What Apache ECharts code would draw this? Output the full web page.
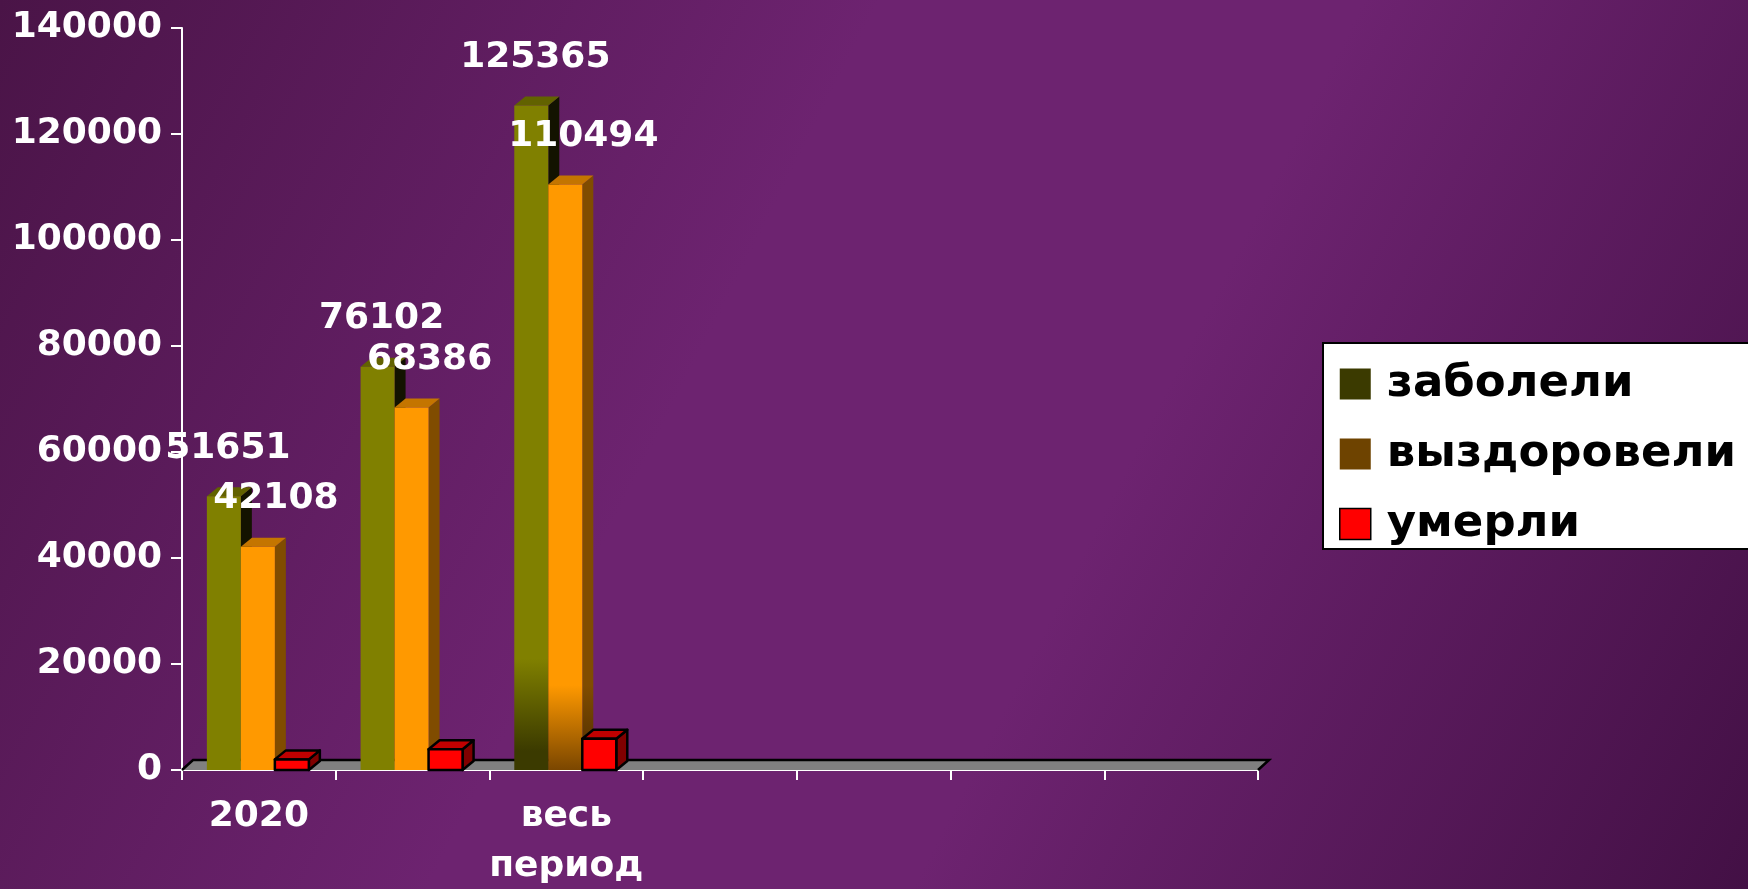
<!DOCTYPE html>
<html>
<head>
<meta charset="utf-8">
<script src="https://cdn.jsdelivr.net/npm/echarts@6/dist/echarts.min.js"></script>
<style>
  html, body { margin: 0; padding: 0; }
  #chart { width: 1748px; height: 889px; }
</style>
</head>
<body>
<div id="chart"></div>
<script>
  // data
  const categories = ['2020', '', 'весь\nпериод', '', '', '', ''];
  const seriesNames = ['заболели', 'выздоровели', 'умерли'];
  const zaboleli = [51651, 76102, 125365];
  const vyzdoroveli = [42108, 68386, 110494];
  const umerli = [2000, 3900, 5900];
  const yMin = 0;
  const yMax = 140000;
  const yStep = 20000;

  // look of the fake 3d columns
  const BAR_W = 34;
  const DX = 11;
  const DY = 9;
  const FADE_CAT = 2; // the last column is shaded darker at the bottom
  const faces = [
    { front: '#808000', top: '#626200', side: '#131300', fadeFront: '#3b3a00', fadeSide: '#050500', fadeFrom: 21000, fadeTo: 3500, labelDx: 4 },
    { front: '#ff9900', top: '#c47500', side: '#804c00', fadeFront: '#7a4600', fadeSide: '#4a2a00', fadeFrom: 16000, fadeTo: 0, labelDx: 18 },
    { front: '#ff0000', top: '#c00000', side: '#800000', stroke: '#000' },
  ];
  const legendColors = ['#3b3a00', '#6e4300', '#ff0000'];
  const font = 'bold 36px "DejaVu Sans"';

  function fill(st, idx, api, normal, faded) {
    if (idx !== FADE_CAT || !faded) return normal;
    const y1 = api.coord([idx, st.fadeFrom])[1];
    const y2 = api.coord([idx, st.fadeTo])[1];
    return new echarts.graphic.LinearGradient(0, y1, 0, y2, [
      { offset: 0, color: normal },
      { offset: 1, color: faded },
    ], true);
  }

  function columnRenderer(s) {
    const st = faces[s];
    return function (params, api) {
      const idx = api.value(0);
      const v = api.value(1);
      const base = api.coord([idx, 0]);
      const top = api.coord([idx, v]);
      const x0 = base[0] - 1.5 * BAR_W - 1 + s * BAR_W;
      const x1 = x0 + BAR_W;
      const line = st.stroke ? { stroke: st.stroke, lineWidth: 2.5, lineJoin: 'round' } : {};
      const children = [
        {
          type: 'polygon',
          shape: { points: [[x1, top[1]], [x1 + DX, top[1] - DY], [x1 + DX, base[1] - DY], [x1, base[1]]] },
          style: Object.assign({ fill: fill(st, idx, api, st.side, st.fadeSide) }, line),
        },
        {
          type: 'polygon',
          shape: { points: [[x0, top[1]], [x0 + DX, top[1] - DY], [x1 + DX, top[1] - DY], [x1, top[1]]] },
          style: Object.assign({ fill: st.top }, line),
        },
        {
          type: 'rect',
          shape: { x: x0, y: top[1], width: BAR_W, height: base[1] - top[1] },
          style: Object.assign({ fill: fill(st, idx, api, st.front, st.fadeFront) }, line),
        },
      ];
      if (st.labelDx !== undefined) {
        children.push({
          type: 'text',
          z2: 100,
          x: x0 + BAR_W / 2 + st.labelDx,
          y: top[1] - 48,
          style: { text: String(v), fill: '#fff', font: font, align: 'center', verticalAlign: 'middle' },
        });
      }
      return { type: 'group', children: children };
    };
  }

  function floorRenderer(params) {
    const cs = params.coordSys;
    const yb = cs.y + cs.height;
    const xl = cs.x;
    const xr = cs.x + cs.width;
    const pts = [[xl, yb], [xl + DX, yb - DY - 1], [xr + DX, yb - DY - 1], [xr, yb]];
    return {
      type: 'group',
      children: [
        { type: 'polygon', shape: { points: pts }, style: { fill: '#808080' } },
        { type: 'polyline', shape: { points: pts }, style: { stroke: '#000', lineWidth: 2.5, fill: null } },
      ],
    };
  }

  const values = [zaboleli, vyzdoroveli, umerli];

  const chart = echarts.init(document.getElementById('chart'));
  chart.setOption({
    animation: false,
    backgroundColor: {
      type: 'linear',
      x: 0, y: 0, x2: 1, y2: 1,
      colorStops: [
        { offset: 0, color: '#4a1447' },
        { offset: 0.4, color: '#6d2370' },
        { offset: 0.62, color: '#6d2370' },
        { offset: 1, color: '#431045' },
      ],
    },
    grid: {
      left: 182,
      right: 490,
      top: 28,
      bottom: 119,
      outerBoundsMode: 'none',
    },
    legend: {
      data: seriesNames.map((n, i) => ({
        name: n,
        itemStyle: i === 2
          ? { color: legendColors[i], borderColor: '#000', borderWidth: 1.5 }
          : { color: legendColors[i], borderWidth: 0 },
      })),
      orient: 'vertical',
      icon: 'rect',
      left: 1323,
      top: 343,
      backgroundColor: '#fff',
      borderColor: '#000',
      borderWidth: 2,
      borderRadius: 0,
      padding: [18, 40, 2, 16],
      itemWidth: 31,
      itemHeight: 31,
      itemGap: 24,
      selectedMode: false,
      textStyle: {
        color: '#000',
        fontFamily: 'DejaVu Sans',
        fontWeight: 'bold',
        fontSize: 45,
        lineHeight: 46,
        padding: [0, 0, 0, 11],
      },
    },
    xAxis: {
      type: 'category',
      data: categories,
      boundaryGap: true,
      axisLine: { lineStyle: { color: '#fff', width: 2 } },
      axisTick: { show: true, length: 10, lineStyle: { color: '#fff', width: 2 } },
      axisLabel: {
        interval: 0,
        color: '#fff',
        fontFamily: 'DejaVu Sans',
        fontWeight: 'bold',
        fontSize: 36,
        lineHeight: 50,
        margin: 22,
      },
      splitLine: { show: false },
    },
    yAxis: {
      type: 'value',
      min: yMin,
      max: yMax,
      interval: yStep,
      axisLine: { show: true, lineStyle: { color: '#fff', width: 2 } },
      axisTick: { show: true, length: 11, lineStyle: { color: '#fff', width: 2 } },
      axisLabel: {
        color: '#fff',
        fontFamily: 'DejaVu Sans',
        fontWeight: 'bold',
        fontSize: 36,
        margin: 20,
        formatter: (v) => String(v),
      },
      splitLine: { show: false },
    },
    series: [
      {
        name: 'floor',
        type: 'custom',
        silent: true,
        renderItem: floorRenderer,
        data: [[0, 0]],
      },
    ].concat(seriesNames.map((n, s) => ({
      name: n,
      type: 'custom',
      silent: true,
      itemStyle: { color: legendColors[s] },
      renderItem: columnRenderer(s),
      data: values[s].map((v, i) => [i, v]),
    }))),
  });

  window.addEventListener('resize', () => chart.resize());
</script>
</body>
</html>
